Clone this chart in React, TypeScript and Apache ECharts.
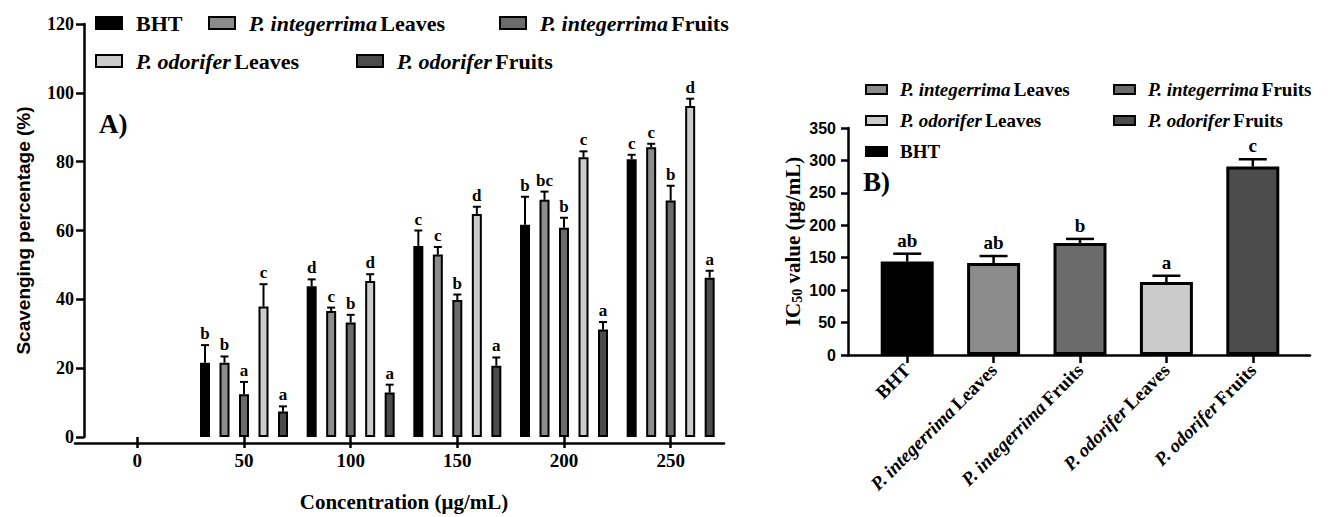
import React, { useEffect, useRef } from "react";
import * as echarts from "echarts";

// ---------- data ----------
const concentrations = ["0", "50", "100", "150", "200", "250"];
const seriesNames = [
  "BHT",
  "P. integerrima Leaves",
  "P. integerrima Fruits",
  "P. odorifer Leaves",
  "P. odorifer Fruits",
];
const seriesColors = ["#000000", "#8c8c8c", "#6b6b6b", "#cbcbcb", "#4b4b4b"];

const bhtScav = [null, 21.6, 43.8, 55.5, 61.7, 80.7];
const bhtScavErr = [null, 26.7, 45.8, 60, 69.8, 82];
const bhtLetters = ["", "b", "d", "c", "b", "c"];

const pilScav = [null, 21.6, 36.6, 53, 68.9, 84.2];
const pilScavErr = [null, 23.4, 37.6, 55.2, 71.3, 85.2];
const pilLetters = ["", "b", "c", "c", "bc", "c"];

const pifScav = [null, 12.4, 33.3, 39.8, 60.8, 68.7];
const pifScavErr = [null, 16, 35.5, 41.4, 63.7, 73];
const pifLetters = ["", "a", "b", "b", "b", "b"];

const polScav = [null, 37.9, 45.3, 64.8, 81.3, 96.2];
const polScavErr = [null, 44.4, 47.3, 66.9, 83, 98.3];
const polLetters = ["", "c", "d", "d", "c", "d"];

const pofScav = [null, 7.4, 12.9, 20.7, 31.2, 46.3];
const pofScavErr = [null, 8.9, 15.2, 23.1, 33.4, 48.3];
const pofLetters = ["", "a", "a", "a", "a", "a"];

const scavTicks = [0, 20, 40, 60, 80, 100, 120];

const ic50Labels = [
  "BHT",
  "P. integerrima Leaves",
  "P. integerrima Fruits",
  "P. odorifer Leaves",
  "P. odorifer Fruits",
];
const ic50Mean = [144.3, 141.8, 172.5, 112.4, 290.5];
const ic50Err = [156.2, 152.6, 179, 122.2, 301.8];
const ic50Letters = ["ab", "ab", "b", "a", "c"];
const ic50Ticks = [0, 50, 100, 150, 200, 250, 300, 350];

// ---------- helpers ----------
const SERIF = '"Liberation Serif", "Times New Roman", serif';
const SANS = '"Liberation Sans", Arial, sans-serif';

const scavMeans = [bhtScav, pilScav, pifScav, polScav, pofScav];
const scavErrs = [bhtScavErr, pilScavErr, pifScavErr, polScavErr, pofScavErr];
const scavLetters = [bhtLetters, pilLetters, pifLetters, polLetters, pofLetters];

function richName(name: string) {
  if (name.startsWith("P.")) {
    const parts = name.split(" ");
    return `{i|${parts[0]} ${parts[1]}} {n|${parts.slice(2).join(" ")}}`;
  }
  return `{n|${name}}`;
}
function richStyles(size: number, lh: number) {
  return {
    i: { fontFamily: SERIF, fontStyle: "italic", fontWeight: "bold", fontSize: size, color: "#000", lineHeight: lh },
    n: { fontFamily: SERIF, fontWeight: "bold", fontSize: size, color: "#000", lineHeight: lh },
  };
}

function legendItem(name: string, left: number, top: number, size: number, w: number, h: number, pad: number) {
  const idx = seriesNames.indexOf(name);
  return {
    data: [name],
    left,
    top,
    padding: 0,
    itemGap: 0,
    itemWidth: w,
    itemHeight: h,
    icon: "rect",
    selectedMode: false,
    itemStyle: { color: seriesColors[idx], borderColor: "#000", borderWidth: 2 },
    formatter: (n: string) => richName(n),
    textStyle: { padding: [0, 0, 0, pad], rich: richStyles(size, size + 2) },
  };
}

export default function App() {
  const ref = useRef<HTMLDivElement>(null);

  useEffect(() => {
    document.body.style.margin = "0";
    const chart = echarts.init(ref.current!, null, { renderer: "svg" });

    const PITCH = 19.5;
    const leftErrData: any[] = [];
    const leftErrLetters: string[] = [];
    scavMeans.forEach((arr, i) => {
      arr.forEach((m, c) => {
        if (m == null) return;
        leftErrData.push([c, i, m, scavErrs[i][c]]);
        leftErrLetters.push(scavLetters[i][c]);
      });
    });

    const rightErrData = ic50Mean.map((m, k) => [k, m, ic50Err[k]]);

    const axisLineStyle = { color: "#000", width: 2.5 };

    const option: any = {
      animation: false,
      backgroundColor: "#ffffff",
      grid: [
        { left: 84, top: 24, width: 640, height: 419 },
        { left: 864, top: 128, width: 432, height: 227 },
        { left: 75, top: 24, width: 649, height: 419 },
        { left: 848, top: 128, width: 462, height: 227 },
      ],
      legend: [
        legendItem(seriesNames[0], 95, 12, 22, 26, 12, 9),
        legendItem(seriesNames[1], 208, 12, 22, 26, 12, 9),
        legendItem(seriesNames[2], 499, 12, 22, 26, 12, 9),
        legendItem(seriesNames[3], 95, 50, 22, 26, 12, 9),
        legendItem(seriesNames[4], 356, 50, 22, 26, 12, 9),
        legendItem(seriesNames[1], 865, 80, 19, 21, 9, 8),
        legendItem(seriesNames[2], 1113, 80, 19, 21, 9, 8),
        legendItem(seriesNames[3], 865, 111, 19, 21, 9, 8),
        legendItem(seriesNames[4], 1113, 111, 19, 21, 9, 8),
        legendItem(seriesNames[0], 865, 142, 19, 21, 9, 8),
      ],
      xAxis: [
        {
          gridIndex: 0,
          type: "category",
          data: concentrations,
          axisLine: { show: false },
          axisTick: { show: true, alignWithLabel: true, length: 11, lineStyle: axisLineStyle },
          axisLabel: { margin: 14, color: "#000", fontFamily: SERIF, fontWeight: "bold", fontSize: 19 },
          name: "Concentration (μg/mL)",
          nameLocation: "middle",
          nameGap: 54,
          nameTextStyle: { color: "#000", fontFamily: SERIF, fontWeight: "bold", fontSize: 21 },
        },
        {
          gridIndex: 1,
          type: "category",
          data: ic50Labels,
          axisLine: { show: false },
          axisTick: { show: true, alignWithLabel: true, length: 8, lineStyle: axisLineStyle },
          axisLabel: {
            rotate: 45,
            margin: 12,
            interval: 0,
            formatter: (v: string) => richName(v),
            rich: richStyles(19, 21),
          },
        },
        {
          gridIndex: 2,
          type: "value",
          min: 0,
          max: 1,
          axisLine: { show: true, lineStyle: axisLineStyle },
          axisTick: { show: false },
          axisLabel: { show: false },
          splitLine: { show: false },
        },
        {
          gridIndex: 3,
          type: "value",
          min: 0,
          max: 1,
          axisLine: { show: true, lineStyle: axisLineStyle },
          axisTick: { show: false },
          axisLabel: { show: false },
          splitLine: { show: false },
        },
      ],
      yAxis: [
        {
          gridIndex: 0,
          type: "value",
          min: scavTicks[0],
          max: scavTicks[scavTicks.length - 1],
          interval: scavTicks[1] - scavTicks[0],
          axisLine: { show: true, lineStyle: axisLineStyle },
          axisTick: { show: true, length: 8, lineStyle: axisLineStyle },
          axisLabel: { margin: 10, color: "#000", fontFamily: SERIF, fontWeight: "bold", fontSize: 18 },
          splitLine: { show: false },
          name: "Scavenging percentage (%)",
          nameLocation: "middle",
          nameGap: 51,
          nameTextStyle: { color: "#000", fontFamily: SANS, fontWeight: "bold", fontSize: 19 },
        },
        {
          gridIndex: 1,
          type: "value",
          offset: 16,
          min: ic50Ticks[0],
          max: ic50Ticks[ic50Ticks.length - 1],
          interval: ic50Ticks[1] - ic50Ticks[0],
          axisLine: { show: true, lineStyle: axisLineStyle },
          axisTick: { show: true, length: 7, lineStyle: axisLineStyle },
          axisLabel: { margin: 12, color: "#000", fontFamily: SANS, fontWeight: "bold", fontSize: 16 },
          splitLine: { show: false },
          name: "{a|IC}{s|50}{a| value (μg/mL)}",
          nameLocation: "middle",
          nameGap: 44,
          nameTextStyle: {
            rich: {
              a: { fontFamily: SERIF, fontWeight: "bold", fontSize: 21, color: "#000" },
              s: { fontFamily: SERIF, fontWeight: "bold", fontSize: 14, color: "#000", padding: [9, 0, 0, 0] },
            },
          },
        },
        { gridIndex: 2, type: "value", show: false, min: 0, max: 1 },
        { gridIndex: 3, type: "value", show: false, min: 0, max: 1 },
      ],
      graphic: [
        { type: "text", left: 99, top: 110, style: { text: "A)", font: `bold 27px ${SERIF}`, fill: "#000" } },
        { type: "text", left: 863, top: 168, style: { text: "B)", font: `bold 27px ${SERIF}`, fill: "#000" } },
      ],
      series: [
        ...seriesNames.map((name, i) => ({
          type: "bar",
          name,
          xAxisIndex: 0,
          yAxisIndex: 0,
          data: scavMeans[i].map((v) => (v == null ? "-" : v)),
          barWidth: 10,
          barGap: "95%",
          itemStyle: { color: seriesColors[i], borderColor: "#000", borderWidth: 2 },
        })),
        ...ic50Labels.map((name, k) => ({
          type: "bar",
          name,
          xAxisIndex: 1,
          yAxisIndex: 1,
          data: ic50Mean.map((v, j) => (j === k ? v : "-")),
          barWidth: 53,
          barGap: "-100%",
          itemStyle: { color: seriesColors[seriesNames.indexOf(name)], borderColor: "#000", borderWidth: 3 },
        })),
        {
          type: "custom",
          name: "scavErr",
          xAxisIndex: 0,
          yAxisIndex: 0,
          z: 5,
          data: leftErrData,
          encode: { x: 0, y: 3 },
          renderItem: (params: any, api: any) => {
            const c = api.value(0);
            const i = api.value(1);
            const top = api.coord([c, api.value(2)]);
            const eb = api.coord([c, api.value(3)]);
            const x = top[0] + (i - 2) * PITCH;
            return {
              type: "group",
              children: [
                { type: "line", shape: { x1: x, y1: top[1], x2: x, y2: eb[1] }, style: { stroke: "#000", lineWidth: 2 } },
                { type: "line", shape: { x1: x - 4, y1: eb[1], x2: x + 4, y2: eb[1] }, style: { stroke: "#000", lineWidth: 2 } },
                {
                  type: "text",
                  x,
                  y: eb[1] - 3,
                  style: {
                    text: leftErrLetters[params.dataIndex],
                    align: "center",
                    verticalAlign: "bottom",
                    fontFamily: SERIF,
                    fontWeight: "bold",
                    fontSize: 17,
                    fill: "#000",
                  },
                },
              ],
            };
          },
        },
        {
          type: "custom",
          name: "icErr",
          xAxisIndex: 1,
          yAxisIndex: 1,
          z: 5,
          data: rightErrData,
          encode: { x: 0, y: 2 },
          renderItem: (params: any, api: any) => {
            const k = api.value(0);
            const top = api.coord([k, api.value(1)]);
            const eb = api.coord([k, api.value(2)]);
            const x = top[0];
            return {
              type: "group",
              children: [
                { type: "line", shape: { x1: x, y1: top[1], x2: x, y2: eb[1] }, style: { stroke: "#000", lineWidth: 2.5 } },
                { type: "line", shape: { x1: x - 14, y1: eb[1], x2: x + 14, y2: eb[1] }, style: { stroke: "#000", lineWidth: 2.5 } },
                {
                  type: "text",
                  x,
                  y: eb[1] - 4,
                  style: {
                    text: ic50Letters[params.dataIndex],
                    align: "center",
                    verticalAlign: "bottom",
                    fontFamily: SERIF,
                    fontWeight: "bold",
                    fontSize: 19,
                    fill: "#000",
                  },
                },
              ],
            };
          },
        },
      ],
    };

    chart.setOption(option);
    return () => chart.dispose();
  }, []);

  return (
    <div
      ref={ref}
      style={{ position: "absolute", left: 0, top: 0, width: 1328, height: 517, background: "#fff" }}
    />
  );
}
